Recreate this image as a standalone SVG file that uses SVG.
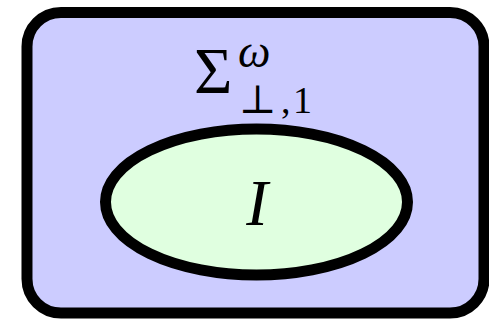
<svg xmlns="http://www.w3.org/2000/svg" width="489" height="320" viewBox="0 0 489 320">
<style>
.t{font-family:"Liberation Serif","DejaVu Serif",serif;fill:#000}
.it{font-style:italic}
</style>
<rect width="489" height="320" fill="#fff"/>
<g id="outer">
<rect x="27" y="12.5" width="457" height="300.5" rx="34" ry="34" fill="#ccccff" stroke="#000" stroke-width="11"/>
<text class="t" x="194" y="93" font-size="66">Σ</text>
<text class="t it" x="238" y="67" font-size="46">ω</text>
<text class="t" x="239" y="113" font-size="40">⊥</text>
<text class="t" x="281" y="113" font-size="38">,</text>
<text class="t" x="293" y="113" font-size="38">1</text>
</g>
<g id="inner">
<ellipse cx="256.5" cy="202" rx="151" ry="73" fill="#e0ffe0" stroke="#000" stroke-width="11"/>
<text class="t it" x="257" y="225" font-size="65" text-anchor="middle">I</text>
</g>
<g id="connectors"/>
</svg>
